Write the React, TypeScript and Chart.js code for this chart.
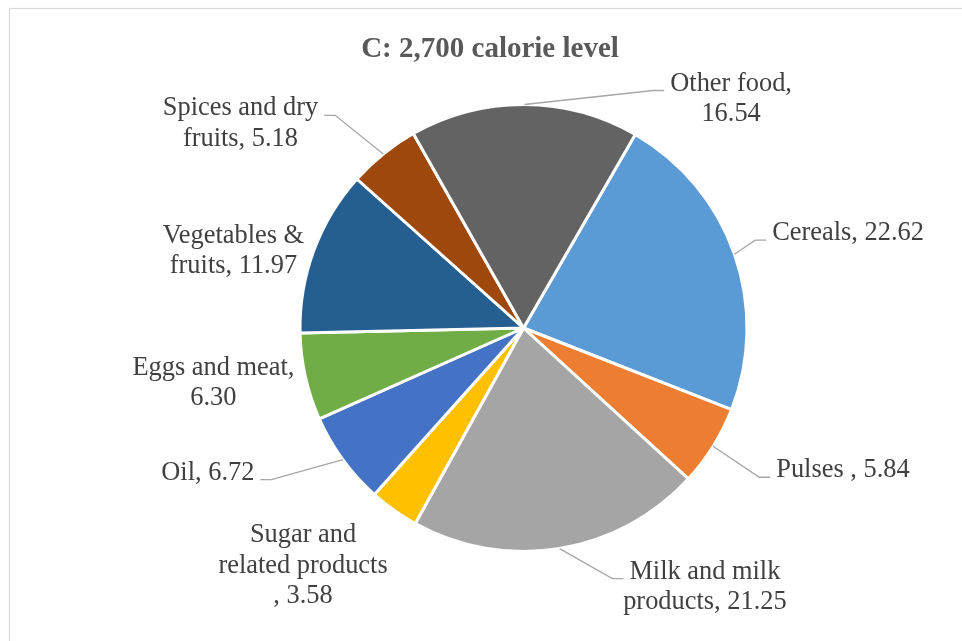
import React, { useEffect, useRef } from "react";
import { Chart, registerables } from "chart.js";

Chart.register(...registerables);

// ---- data ----
const categories = [
  "Cereals",
  "Pulses ",
  "Milk and milk products",
  "Sugar and related products ",
  "Oil",
  "Eggs and meat",
  "Vegetables & fruits",
  "Spices and dry fruits",
  "Other food",
];
const values = [22.62, 5.84, 21.25, 3.58, 6.72, 6.3, 11.97, 5.18, 16.54];
const colors = [
  "#5B9BD5",
  "#ED7D31",
  "#A5A5A5",
  "#FFC000",
  "#4472C4",
  "#70AD47",
  "#255E91",
  "#9E480E",
  "#636363",
];
const chartTitle = "C: 2,700 calorie level";

// ---- layout / style (not data) ----
// offset from the slice's outer-edge midpoint to the label's first-line baseline centre
const labelOffsets: [number, number][] = [
  [113.6, -14],
  [129.8, 31],
  [145.3, 30],
  [-91, 32],
  [-135, 20],
  [-92, -2],
  [-80.4, -7.6],
  [-142.8, -38.7],
  [206.7, -14],
];
const showLeader = [true, true, true, false, true, false, false, true, true];
const LABEL_FONT = "26.4px 'Liberation Serif', 'Times New Roman', serif";
const TITLE_FONT = "bold 29px 'Liberation Serif', 'Times New Roman', serif";
const LINE_HEIGHT = 30.5;
const WRAP_WIDTH = 178;

function wrapText(ctx: CanvasRenderingContext2D, text: string, maxW: number): string[] {
  const words = text.split(" ").filter((w) => w.length > 0);
  const lines: string[] = [];
  let cur = "";
  for (const w of words) {
    const test = cur ? cur + " " + w : w;
    if (cur && ctx.measureText(test).width > maxW) {
      lines.push(cur);
      cur = w;
    } else {
      cur = test;
    }
  }
  if (cur) lines.push(cur);
  return lines;
}

const decorPlugin = {
  id: "excelDecor",
  beforeDraw(chart: any) {
    const ctx: CanvasRenderingContext2D = chart.ctx;
    ctx.save();
    ctx.fillStyle = "#FFFFFF";
    ctx.fillRect(0, 0, chart.width, chart.height);
    ctx.strokeStyle = "#D9D9D9";
    ctx.lineWidth = 1.2;
    ctx.strokeRect(9.5, 8.5, 1000, 1000);
    ctx.restore();
  },
  afterDatasetsDraw(chart: any) {
    const ctx: CanvasRenderingContext2D = chart.ctx;
    const meta = chart.getDatasetMeta(0);
    ctx.save();
    ctx.font = LABEL_FONT;
    ctx.fillStyle = "#404040";
    ctx.textBaseline = "alphabetic";
    ctx.textAlign = "center";
    meta.data.forEach((arc: any, i: number) => {
      const p = arc.getProps(["x", "y", "startAngle", "endAngle", "outerRadius"], true);
      const mid = (p.startAngle + p.endAngle) / 2;
      const ex = p.x + Math.cos(mid) * p.outerRadius;
      const ey = p.y + Math.sin(mid) * p.outerRadius;
      const text = `${categories[i]}, ${values[i].toFixed(2)}`;
      const lines = wrapText(ctx, text, WRAP_WIDTH);
      const ax = ex + labelOffsets[i][0];
      const ay = ey + labelOffsets[i][1];
      lines.forEach((ln, k) => ctx.fillText(ln, ax, ay + k * LINE_HEIGHT));
      if (showLeader[i]) {
        const w1 = ctx.measureText(lines[0]).width;
        const dir = labelOffsets[i][0] > 0 ? 1 : -1;
        const endX = ax - dir * (w1 / 2 + 6);
        const elbowX = endX - dir * 11;
        ctx.save();
        ctx.strokeStyle = "#A6A6A6";
        ctx.lineWidth = 1.3;
        ctx.beginPath();
        ctx.moveTo(ex, ey);
        ctx.lineTo(elbowX, ay);
        ctx.lineTo(endX, ay);
        ctx.stroke();
        ctx.restore();
      }
    });
    ctx.restore();
  },
  afterDraw(chart: any) {
    const ctx: CanvasRenderingContext2D = chart.ctx;
    ctx.save();
    ctx.font = TITLE_FONT;
    ctx.fillStyle = "#595959";
    ctx.textAlign = "center";
    ctx.textBaseline = "alphabetic";
    ctx.fillText(chartTitle, 490, 56.5);
    ctx.restore();
  },
};

export default function App() {
  const ref = useRef<HTMLCanvasElement | null>(null);
  useEffect(() => {
    if (!ref.current) return;
    const chart = new Chart(ref.current, {
      type: "pie",
      data: {
        labels: categories,
        datasets: [
          {
            data: values,
            backgroundColor: colors,
            borderColor: "#FFFFFF",
            borderWidth: 3,
          },
        ],
      },
      options: {
        responsive: false,
        maintainAspectRatio: false,
        animation: false,
        rotation: 30,
        layout: { padding: { left: 298.5, right: 213.5, top: 103, bottom: 88 } },
        plugins: {
          legend: { display: false },
          tooltip: { enabled: false },
          title: { display: false },
        },
      },
      plugins: [decorPlugin],
    });
    return () => chart.destroy();
  }, []);
  return (
    <div style={{ position: "absolute", left: 0, top: 0, width: 962, height: 641, overflow: "hidden" }}>
      <canvas ref={ref} width={962} height={641} style={{ display: "block" }} />
    </div>
  );
}
